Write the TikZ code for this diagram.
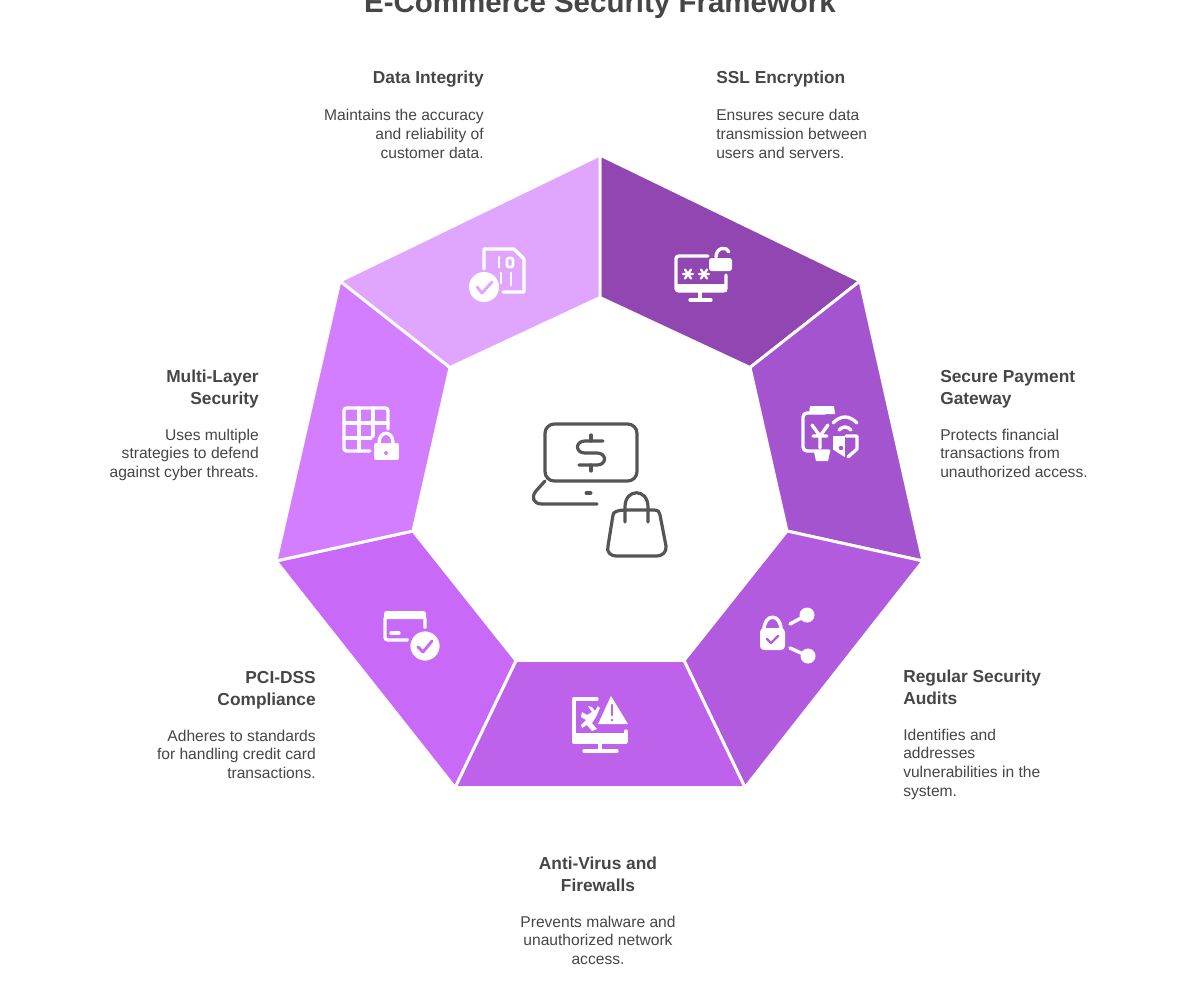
\documentclass[tikz,border=0pt]{standalone}
\usepackage{fontspec}
\setmainfont{Liberation Sans}
\definecolor{ink}{HTML}{464646}
\definecolor{icong}{HTML}{555555}
\definecolor{segA}{HTML}{9146B2}
\definecolor{segB}{HTML}{A454CF}
\definecolor{segC}{HTML}{B35BDF}
\definecolor{segD}{HTML}{BE62EC}
\definecolor{segE}{HTML}{C869F7}
\definecolor{segF}{HTML}{D27EFF}
\definecolor{segG}{HTML}{E0A5FF}
\tikzset{
  seg/.style={draw=white,line width=2.2pt,line join=miter},
  ic/.style={draw=white,line width=2.5pt,line cap=round,line join=round},
  headtxt/.style={inner sep=0pt,text=ink,font=\fontsize{13}{16.5}\selectfont\bfseries},
  bodytxt/.style={inner sep=0pt,text=ink,font=\fontsize{11.7}{14.2}\selectfont},
  titletxt/.style={inner sep=0pt,text=ink,font=\fontsize{22.1}{26}\selectfont\bfseries},
  gl/.style={draw=icong,line width=2.4pt,line cap=round,line join=round}
}
\newcommand{\starmark}[2]{\draw[ic,line width=1.7pt] (#1-5,#2)--(#1+5,#2) (#1-3,#2-4.5)--(#1+3,#2+4.5) (#1+3,#2-4.5)--(#1-3,#2+4.5);}
\begin{document}
\begin{tikzpicture}[x=0.75pt,y=-0.75pt]
\useasboundingbox (0,0) rectangle (1200,1000);
\fill[white] (0,0) rectangle (1200,1000);
\clip (0,0) rectangle (1200,1000);
\node[titletxt] (title) at (600,5) {E-Commerce Security Framework};

% Segments
\fill[segA,seg] (600,155)--(860,281)--(750,367.5)--(600,297.5)--cycle;
\fill[segB,seg] (860,281)--(923,561)--(787,531)--(750,367.5)--cycle;
\fill[segC,seg] (923,561)--(745,787.5)--(684,660.5)--(787,531)--cycle;
\fill[segD,seg] (745,787.5)--(455,787.5)--(516,660.5)--(684,660.5)--cycle;
\fill[segE,seg] (455,787.5)--(276,561)--(413,531)--(516,660.5)--cycle;
\fill[segF,seg] (276,561)--(340,281)--(450,367.5)--(413,531)--cycle;
\fill[segG,seg] (340,281)--(600,155)--(600,297.5)--(450,367.5)--cycle;

% Labels
\node[headtxt,anchor=north east,align=right] (h1) at (484,68) {\strut Data Integrity};
\node[bodytxt,anchor=north east,align=right] (b1) at (484,107) {\strut Maintains the accuracy\\and reliability of\\customer data.};
\node[headtxt,anchor=north west,align=left] (h2) at (716,68) {\strut SSL Encryption};
\node[bodytxt,anchor=north west,align=left] (b2) at (716,107) {\strut Ensures secure data\\transmission between\\users and servers.};
\node[headtxt,anchor=north west,align=left] (h3) at (940,367) {\strut Secure Payment\\Gateway};
\node[bodytxt,anchor=north west,align=left] (b3) at (940,426.5) {\strut Protects financial\\transactions from\\unauthorized access.};
\node[headtxt,anchor=north east,align=right] (h4) at (259,367) {\strut Multi-Layer\\Security};
\node[bodytxt,anchor=north east,align=right] (b4) at (259,426.5) {\strut Uses multiple\\strategies to defend\\against cyber threats.};
\node[headtxt,anchor=north west,align=left] (h5) at (903,667) {\strut Regular Security\\Audits};
\node[bodytxt,anchor=north west,align=left] (b5) at (903,726.5) {\strut Identifies and\\addresses\\vulnerabilities in the\\system.};
\node[headtxt,anchor=north east,align=right] (h6) at (316,668) {\strut PCI-DSS\\Compliance};
\node[bodytxt,anchor=north east,align=right] (b6) at (316,727.5) {\strut Adheres to standards\\for handling credit card\\transactions.};
\node[headtxt,anchor=north,align=center] (h7) at (598,854) {\strut Anti-Virus and\\Firewalls};
\node[bodytxt,anchor=north,align=center] (b7) at (598,913.5) {\strut Prevents malware and\\unauthorized network\\access.};

% Icon: SSL
\draw[ic,rounded corners=2pt] (708,256)--(676,256)--(676,291)--(726,291)--(726,275);
\fill[white] (676,284) rectangle (727,292);
\draw[ic] (700,292)--(700,300) (690,300)--(711,300);
\fill[white,rounded corners=2pt] (709,258) rectangle (732,271);
\draw[ic] (716,257) .. controls (716,247) and (727,246) .. (729,252);
\starmark{688}{274}\starmark{704}{274}

% Icon: Data Integrity
\draw[ic] (484,269)--(484,249)--(514,249)--(524,259)--(524,292)--(503,292);
\draw[ic,line width=2pt] (499,257)--(499,267);
\draw[ic,line width=2pt,rounded corners=1.5pt] (507,258) rectangle (513,267);
\draw[ic,line width=2pt] (501,273)--(501,283) (511,273)--(511,285);
\fill[white] (484,287) circle (15);
\draw[line width=2.2pt,segG,line cap=round,line join=round] (477,287)--(482,293)--(492,282);

% Icon: Multi-Layer
\draw[ic,rounded corners=2pt] (388,429)--(388,408)--(344,408)--(344,451)--(370,451);
\draw[ic] (359,408)--(359,451) (373,408)--(373,436) (344,423)--(388,423) (344,438)--(371,438);
\fill[white,draw=segF,line width=1.5pt,rounded corners=2pt] (373,442) rectangle (400,461);
\draw[ic,line width=2.5pt] (379,443) .. controls (379,430) and (393,430) .. (393,443);
\fill[segF] (386,453) circle (2);

% Icon: Secure Payment
\draw[ic,rounded corners=3pt] (825,413)--(803,413)--(803,451)--(829,451);
\fill[white] (810,406)--(834,406)--(835,414)--(809,414)--cycle;
\fill[white] (814,452)--(830,452)--(828,461)--(816,461)--cycle;
\draw[ic] (812,425)--(820,436)--(828,425) (820,436)--(820,448) (813,436)--(827,436);
\draw[ic] (833,423) .. controls (841,415) and (849,415) .. (857,423);
\draw[ic] (839,430) .. controls (843,426) and (847,426) .. (851,430);
\fill[white,draw=segB,line width=1.2pt] (832,435)--(846,435)--(846,459)--(832,450)--cycle;
\draw[ic] (846,436)--(857,436)--(857,449)--(848,457);
\fill[segB] (841,448) circle (2.2);

% Icon: Audits
\draw[ic,line width=2.6pt] (764,630) .. controls (764,613) and (781,613) .. (781,630);
\fill[white,rounded corners=3pt] (760,628) rectangle (785,650);
\draw[segC,line width=1.8pt,line cap=round,line join=round] (767,639)--(771,643)--(778,636);
\fill[white] (807,615) circle (7.5);
\fill[white] (808,656) circle (7.5);
\draw[ic,line width=2.6pt] (790,624)--(801,618) (790,648)--(801,653);

% Icon: Anti-virus
\draw[ic] (597,699)--(574,699)--(574,742)--(626,742)--(626,731);
\fill[white] (573,733) rectangle (627,744);
\draw[ic] (600,744)--(600,751) (584,751)--(617,751);
\fill[white] (611,696)--(628,724)--(598,724)--cycle;
\draw[segD,line width=2pt,line cap=round] (612,705)--(612,715);
\fill[segD] (612,720) circle (1.3);
\fill[white] (582,712)--(587,715)--(592,712)--(588,706)--(592,707)--(595,711)--(598,706)--(600,708)--(596,717)--(592,723)--(597,729)--(592,731)--(587,725)--(582,728)--(581,725)--(586,720)--(581,717)--cycle;

% Icon: PCI
\fill[white,rounded corners=2pt] (384,611) rectangle (426,619);
\draw[ic,rounded corners=2pt] (385,618)--(385,640)--(408,640) (425,618)--(425,628);
\draw[ic] (391,633)--(399,633);
\fill[white,draw=segE,line width=2pt] (425,646) circle (16);
\draw[segE,line width=2.2pt,line cap=round,line join=round] (418,647)--(423,652)--(432,641);

% Centre icon
\draw[gl,rounded corners=7pt] (545,481)--(545,424)--(637,424)--(637,481)--cycle;
\draw[gl] (545,481)--(536,491) .. controls (531,497) and (533,504) .. (542,504) --(597,504);
\draw[gl,line width=3pt] (586.5,493)--(590.5,493);
\draw[gl] (591,435)--(591,441) (591,465)--(591,471);
\draw[gl] (603,441)--(585,441) .. controls (575,441) and (575,453) .. (585,453)--(597,453) .. controls (607,453) and (607,465) .. (597,465)--(579,465);
\draw[gl] (625,510)--(654,510) .. controls (658,510) and (660,512) .. (660,515) -- (666,546) .. controls (667,552) and (662,556) .. (657,556) -- (616,556) .. controls (611,556) and (606,552) .. (608,546) -- (613,515) .. controls (613,512) and (618,510) .. (625,510);
\draw[gl] (625,522)--(625,507) .. controls (625,488) and (648,488) .. (648,507)--(648,522);
\end{tikzpicture}
\end{document}
